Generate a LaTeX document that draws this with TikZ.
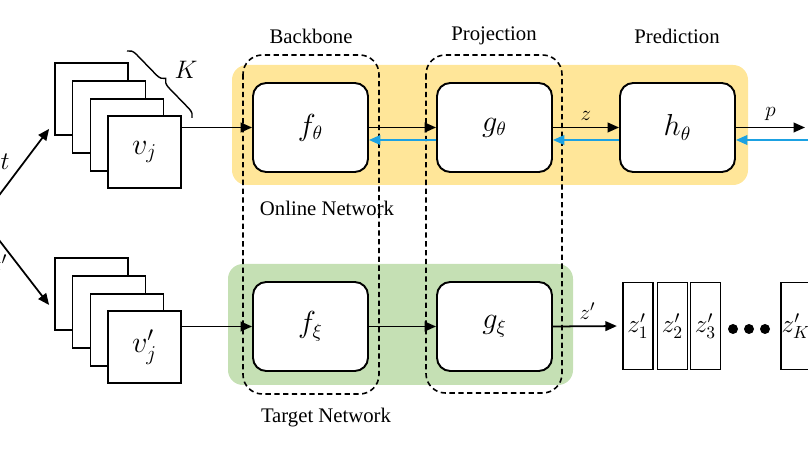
\documentclass[tikz,border=0pt]{standalone}
\usepackage{fontspec}
\setmainfont{Liberation Serif}
\usetikzlibrary{arrows.meta,positioning,decorations.pathreplacing}
\definecolor{onlineyellow}{HTML}{FFE699}
\definecolor{targetgreen}{HTML}{C5E0B4}
\definecolor{gradblue}{HTML}{1BA1E2}

\tikzset{
  netbox/.style={draw, line width=1.1pt, rounded corners=7.5pt, fill=white,
    minimum width=2.3cm, minimum height=1.78cm, font=\fontsize{16}{18}\selectfont},
  viewbox/.style={draw, line width=1pt, fill=white,
    minimum width=1.46cm, minimum height=1.44cm, font=\fontsize{18}{20}\selectfont},
  embbox/.style={draw, line width=1pt, minimum width=0.6cm, minimum height=1.74cm,
    inner sep=0pt, font=\fontsize{14}{16}\selectfont},
  groupbox/.style={draw, line width=0.9pt, dash pattern=on 3pt off 2pt, rounded corners=11pt},
  flow/.style={-{Triangle[length=6.5pt,width=5.5pt]}, line width=1pt},
  grad/.style={gradblue, -{Triangle[length=6.5pt,width=5.5pt]}, line width=1pt},
}

\begin{document}
\begin{tikzpicture}[x=0.02cm, y=-0.02cm, font=\fontsize{11.8}{14}\selectfont]
  \useasboundingbox (0,0) rectangle (808,455);
  \clip (0,0) rectangle (808,455);
  % network backgrounds
  \fill[onlineyellow, rounded corners=8.5pt] (232,65) rectangle (748,185);
  \fill[targetgreen, rounded corners=8.5pt] (228,264) rectangle (573,385);
  % dashed groups
  \draw[groupbox] (243,55) rectangle (379,394);
  \draw[groupbox] (426,55) rectangle (562,393);
  \node (lbback) at (311,36) {Backbone};
  \node (lbproj) at (494,36) {Projection};
  \node (lbpred) at (677,36) {Prediction};
  \node (lbonline) at (327,208) {Online Network};
  \node (lbtarget) at (326,418) {Target Network};

  % augmented views
  \node[viewbox] (va1) at (91.5,99) {};
  \node[viewbox] (va2) at (109,117) {};
  \node[viewbox] (va3) at (127,135) {};
  \node[viewbox] (va4) at (144.5,152) {$v_j$};
  \node[viewbox] (vb1) at (91.5,294) {};
  \node[viewbox] (vb2) at (109,312) {};
  \node[viewbox] (vb3) at (127,330) {};
  \node[viewbox] (vb4) at (144.5,347) {$v'_j$};
  \draw[decorate, decoration={brace, amplitude=5pt}, line width=0.8pt] (127,51) -- (192,118);
  \node[font=\fontsize{14}{16}\selectfont] (klab) at (186,70) {$K$};

  % transformations
  \coordinate (src) at (-18,218);
  \draw[flow] (src) -- ([shift={(-5,-7)}]va1.south west);
  \draw[flow] (src) -- ([shift={(-5,11)}]vb1.west);
  \node[font=\fontsize{14}{16}\selectfont] (tlab) at (5,162) {$t$};
  \node[font=\fontsize{14}{16}\selectfont] (tplab) at (0,264) {$t'$};

  % online network
  \node[netbox] (ft) at (310.5,127.5) {$f_\theta$};
  \node[netbox] (gt) at (494.5,127.5) {$g_\theta$};
  \node[netbox] (ht) at (677.5,127.5) {$h_\theta$};
  \coordinate (pout) at (805,127.5);
  \coordinate (pin) at (812,140);
  \draw[flow] (va4.east |- ft.west) -- (ft.west);
  \draw[flow] (ft.east) -- (gt.west);
  \draw[flow] (gt.east) -- node[above, font=\fontsize{13}{15}\selectfont] {$z$} (ht.west);
  \draw[flow] (ht.east) -- node[above, font=\fontsize{13}{15}\selectfont] {$p$} (pout);
  \draw[grad] ([yshift=-0.25cm]gt.west) -- ([yshift=-0.25cm]ft.east);
  \draw[grad] ([yshift=-0.25cm]ht.west) -- ([yshift=-0.25cm]gt.east);
  \draw[grad] (pin) -- ([yshift=-0.25cm]ht.east);

  % target network
  \node[netbox] (fx) at (310.5,326.5) {$f_\xi$};
  \node[netbox] (gx) at (494.5,326.5) {$g_\xi$};
  \draw[flow] (vb4.east |- fx.west) -- (fx.west);
  \draw[flow] (fx.east) -- (gx.west);

  % queue of target projections
  \node[embbox] (z1) at (638,326) {$z'_1$};
  \node[embbox] (z2) at (672.5,326) {$z'_2$};
  \node[embbox] (z3) at (705.5,326) {$z'_3$};
  \node[embbox] (zk) at (796,326) {$z'_K$};
  \draw[flow, shorten >=3pt] (gx.east) -- node[above, font=\fontsize{13}{15}\selectfont] {$z'$} (z1.west);
  \fill (733,329) circle (0.1cm);
  \fill (749,329) circle (0.1cm);
  \fill (765,329) circle (0.1cm);
\end{tikzpicture}
\end{document}
